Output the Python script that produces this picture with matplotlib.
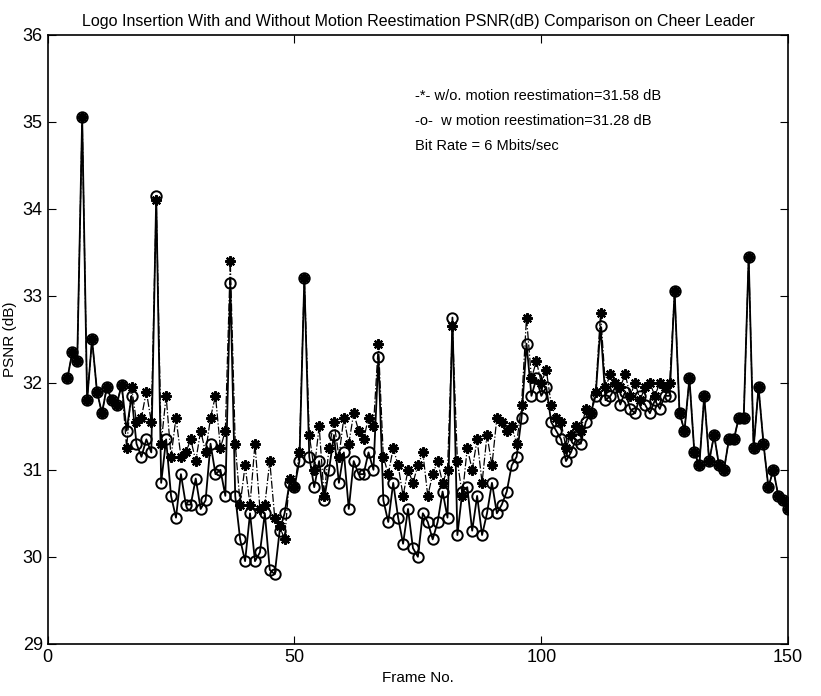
import numpy as np
import matplotlib
matplotlib.use("Agg")
import matplotlib.pyplot as plt

plt.rcParams["font.family"] = ["Liberation Sans", "DejaVu Sans"]

frames = np.arange(4, 151)

# PSNR without motion reestimation (-*-)
psnr_wo = [
    32.05, 32.35, 32.25, 35.05, 31.80, 32.50, 31.90, 31.65, 31.95, 31.80, 31.75, 31.98,
    31.25, 31.95, 31.55, 31.60, 31.90, 31.55, 34.10,
    31.30, 31.85, 31.15, 31.60, 31.15, 31.20, 31.35, 31.10, 31.45, 31.20, 31.60, 31.85, 31.25, 31.45,
    33.40,
    31.30, 30.60, 31.05, 30.60, 31.30, 30.55, 30.60, 31.10, 30.45, 30.35, 30.20, 30.90, 30.80, 31.20,
    33.20,
    31.40, 31.00, 31.50, 30.70, 31.25, 31.55, 31.15, 31.60, 31.30, 31.65, 31.45, 31.35, 31.60, 31.50,
    32.45,
    31.15, 30.95, 31.25, 31.05, 30.70, 31.00, 30.85, 31.05, 31.20, 30.70, 30.95, 31.10, 30.85, 31.00,
    32.65,
    31.10, 30.70, 31.25, 31.00, 31.35, 30.85, 31.40, 31.05, 31.60, 31.55, 31.45, 31.50, 31.30, 31.75,
    32.75,
    32.05, 32.25, 32.00, 32.15, 31.75, 31.60, 31.55, 31.25, 31.40, 31.50, 31.45, 31.70, 31.65, 31.90,
    32.80,
    31.95, 32.10, 32.00, 31.95, 32.10, 31.85, 32.00, 31.80, 31.95, 32.00, 31.85, 32.00, 31.95, 32.00,
    33.05,
    31.65, 31.45, 32.05, 31.20, 31.05, 31.85, 31.10, 31.40, 31.05, 31.00, 31.35, 31.35, 31.60, 31.60,
    33.45,
    31.25, 31.95, 31.30, 30.80, 31.00, 30.70, 30.65, 30.55,
]

# PSNR with motion reestimation (-o-)
psnr_w = [
    32.05, 32.35, 32.25, 35.05, 31.80, 32.50, 31.90, 31.65, 31.95, 31.80, 31.75, 31.98,
    31.45, 31.85, 31.30, 31.15, 31.35, 31.20, 34.15,
    30.85, 31.35, 30.70, 30.45, 30.95, 30.60, 30.60, 30.90, 30.55, 30.65, 31.30, 30.95, 31.00, 30.70,
    33.15,
    30.70, 30.20, 29.95, 30.50, 29.95, 30.05, 30.50, 29.85, 29.80, 30.30, 30.50, 30.85, 30.80, 31.10,
    33.20,
    31.15, 30.80, 31.10, 30.65, 31.00, 31.40, 30.85, 31.20, 30.55, 31.10, 30.95, 30.95, 31.20, 31.00,
    32.30,
    30.65, 30.40, 30.85, 30.45, 30.15, 30.55, 30.10, 30.00, 30.50, 30.40, 30.20, 30.40, 30.75, 30.45,
    32.75,
    30.25, 30.75, 30.80, 30.30, 30.70, 30.25, 30.50, 30.85, 30.50, 30.60, 30.75, 31.05, 31.15, 31.60,
    32.45,
    31.85, 32.05, 31.85, 31.95, 31.55, 31.45, 31.35, 31.10, 31.20, 31.35, 31.30, 31.55, 31.65, 31.85,
    32.65,
    31.80, 31.85, 31.95, 31.75, 31.90, 31.70, 31.65, 31.85, 31.75, 31.65, 31.80, 31.70, 31.85, 31.85,
    33.05,
    31.65, 31.45, 32.05, 31.20, 31.05, 31.85, 31.10, 31.40, 31.05, 31.00, 31.35, 31.35, 31.60, 31.60,
    33.45,
    31.25, 31.95, 31.30, 30.80, 31.00, 30.70, 30.65, 30.55,
]

legend_lines = [
    "-*- w/o. motion reestimation=31.58 dB",
    "-o-  w motion reestimation=31.28 dB",
    "Bit Rate = 6 Mbits/sec",
]

fig = plt.figure(figsize=(8.21, 6.96), dpi=100)
ax = fig.add_axes([0.058, 0.075, 0.902, 0.875])

ax.plot(frames, psnr_wo, linestyle="-.", color="black", linewidth=0.9,
        marker=(8, 2, 0), markersize=7.5, markeredgewidth=1.6)
ax.plot(frames, psnr_w, linestyle="-", color="black", linewidth=1.3,
        marker="o", markersize=7.5, markerfacecolor="none", markeredgewidth=1.4)

ax.set_xlim(0, 150)
ax.set_ylim(29, 36)
ax.set_xticks([0, 50, 100, 150])
ax.set_yticks(range(29, 37))
ax.tick_params(direction="in", top=True, right=True, labelsize=13, length=6)
for s in ax.spines.values():
    s.set_linewidth(1.2)

ax.set_xlabel("Frame No.", fontsize=11)
ax.set_ylabel("PSNR (dB)", fontsize=11)
ax.set_title("Logo Insertion With and Without Motion Reestimation PSNR(dB) Comparison on Cheer Leader",
             fontsize=11.5, pad=6)

for i, line in enumerate(legend_lines):
    ax.text(74.5, 35.3 - i * 0.29, line, fontsize=10.5, ha="left", va="center")

fig.savefig("out.png", dpi=100)
